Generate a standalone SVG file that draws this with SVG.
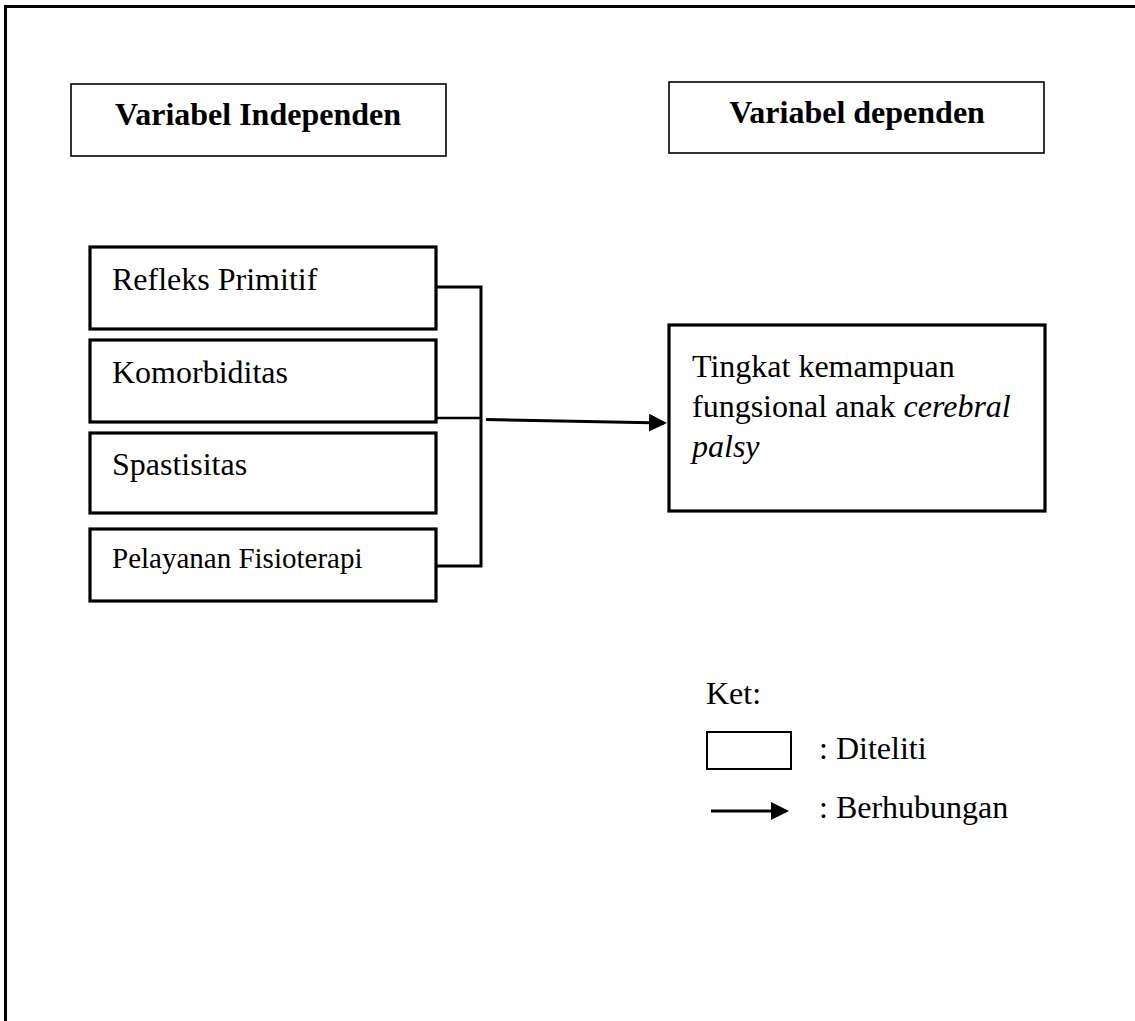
<svg xmlns="http://www.w3.org/2000/svg" width="1135" height="1021" viewBox="0 0 1135 1021">
<style>
.t{font-family:"Liberation Serif","Times New Roman",serif;fill:#000;font-size:32px}
.b{font-weight:bold}
.hb{fill:#fff;stroke:#000;stroke-width:1.6}
.nb{fill:#fff;stroke:#000;stroke-width:3.2}
.ln{fill:none;stroke:#000;stroke-width:3}
</style>
<defs>
<marker id="ah" markerWidth="6" markerHeight="6" refX="5" refY="3" orient="auto" markerUnits="strokeWidth">
<path d="M0,0 L6,3 L0,6 z" fill="#000"/>
</marker>
</defs>
<rect width="1135" height="1021" fill="#fff"/>
<g id="frame">
<line x1="4" y1="6.5" x2="1135" y2="6.5" stroke="#000" stroke-width="3"/>
<line x1="5.5" y1="5" x2="5.5" y2="1021" stroke="#000" stroke-width="3"/>
</g>
<g id="hdr-independen">
<rect class="hb" x="71" y="84" width="375" height="72"/>
<text class="t b" x="258" y="125" text-anchor="middle">Variabel Independen</text>
</g>
<g id="hdr-dependen">
<rect class="hb" x="669" y="82" width="375" height="71"/>
<text class="t b" x="857" y="123" text-anchor="middle">Variabel dependen</text>
</g>
<g id="n-refleks">
<rect class="nb" x="90" y="247" width="346" height="82"/>
<text class="t" x="112" y="290">Refleks Primitif</text>
</g>
<g id="n-komorbiditas">
<rect class="nb" x="90" y="340" width="346" height="82"/>
<text class="t" x="112" y="383">Komorbiditas</text>
</g>
<g id="n-spastisitas">
<rect class="nb" x="90" y="433" width="346" height="80"/>
<text class="t" x="112" y="475">Spastisitas</text>
</g>
<g id="n-pelayanan">
<rect class="nb" x="90" y="529" width="346" height="72"/>
<text class="t" x="112" y="568" style="font-size:29px">Pelayanan Fisioterapi</text>
</g>
<g id="n-tingkat">
<rect class="nb" x="669" y="325" width="376" height="186"/>
<text class="t" x="692" y="377">Tingkat kemampuan</text>
<text class="t" x="692" y="417">fungsional anak <tspan font-style="italic">cerebral</tspan></text>
<text class="t" x="692" y="457" font-style="italic">palsy</text>
</g>
<g id="connectors">
<polyline class="ln" points="436,287 481,287 481,566 436,566"/>
<line x1="436" y1="418" x2="481" y2="418" stroke="#000" stroke-width="2.5"/>
<line class="ln" x1="486" y1="419.5" x2="664" y2="423" marker-end="url(#ah)"/>
</g>
<g id="legend">
<text class="t" x="706" y="704">Ket:</text>
<rect x="707" y="732" width="84" height="37" fill="#fff" stroke="#000" stroke-width="2"/>
<text class="t" x="819" y="759">: Diteliti</text>
<line class="ln" x1="711" y1="811" x2="786" y2="811" marker-end="url(#ah)"/>
<text class="t" x="819" y="818">: Berhubungan</text>
</g>
</svg>
